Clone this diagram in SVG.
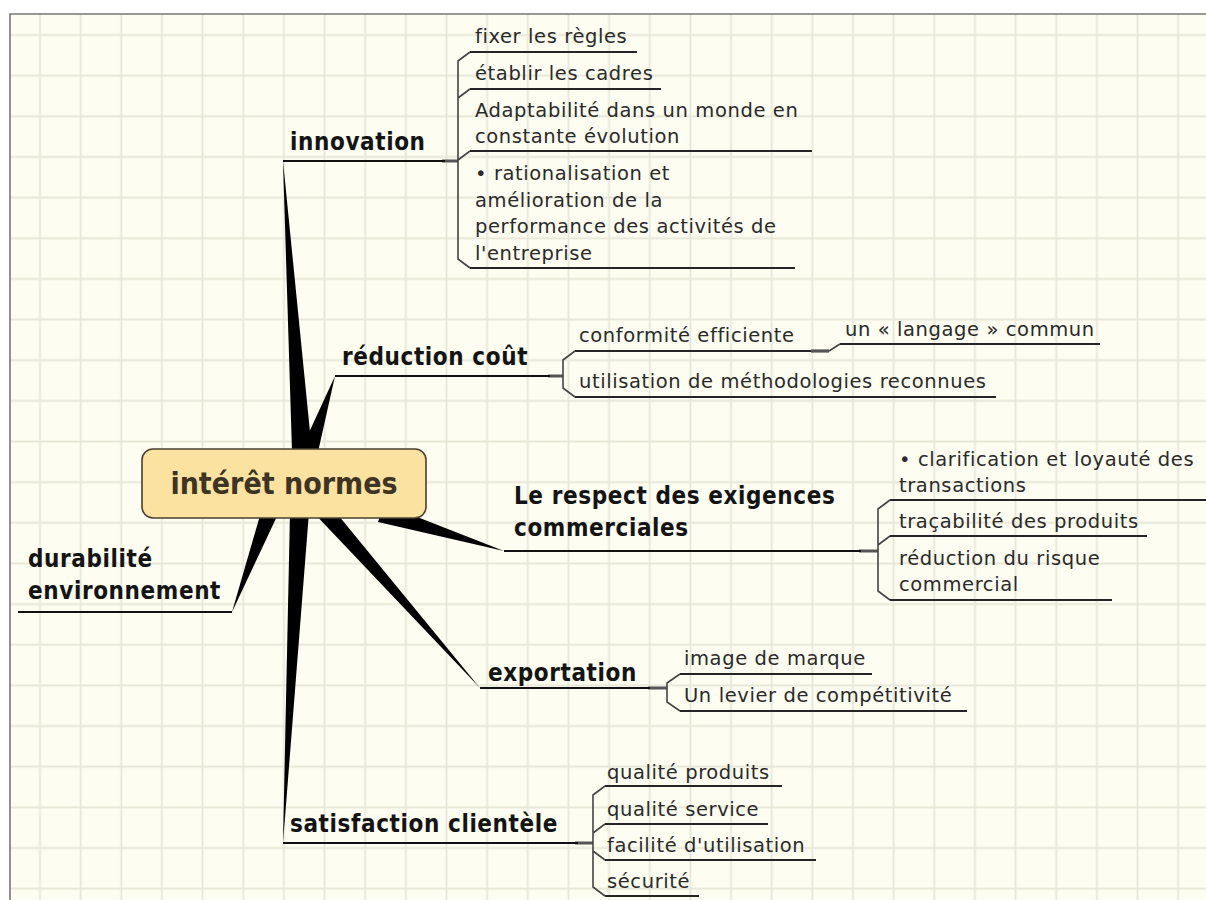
<svg xmlns="http://www.w3.org/2000/svg" width="1206" height="900" viewBox="0 0 1206 900">
<defs>
<pattern id="grid" x="19.675" y="14.675" width="40.65" height="40.65" patternUnits="userSpaceOnUse">
<path d="M20.325 0V40.65M0 20.325H40.65" stroke="#e7e7d9" stroke-width="1.8" fill="none"/>
</pattern>
<style>
.br{font-family:"DejaVu Sans Condensed","DejaVu Sans",sans-serif;font-stretch:condensed;font-weight:bold;font-size:24px;letter-spacing:0.6px;fill:#141414}
.sub{font-family:"DejaVu Sans",sans-serif;font-size:19.5px;letter-spacing:0.6px;fill:#2a2a2a}
.ctr{font-family:"DejaVu Sans Condensed","DejaVu Sans",sans-serif;font-stretch:condensed;font-weight:bold;font-size:30px;fill:#3d3424}
.ul{stroke:#111;stroke-width:2;fill:none}
.cul{stroke:#252525;stroke-width:1.8;fill:none}
.brk{stroke:#444;stroke-width:1.6;fill:none}
.thk{stroke:#555;stroke-width:3.2;fill:none}
.spk{fill:#000}
</style>
</defs>
<rect width="1206" height="900" fill="#fff"/>
<rect x="10" y="14" width="1200" height="890" fill="#fdfdf1"/>
<rect x="10" y="14" width="1200" height="890" fill="url(#grid)"/>
<path d="M10 900V14H1206" stroke="#777" stroke-width="1.6" fill="none"/>

<g id="connectors">
<polygon class="spk" points="283,161 292,452 312,452"/>
<polygon class="spk" points="335,376 300,452 318,452"/>
<polygon class="spk" points="504,551 378,522 384,504"/>
<polygon class="spk" points="480,688 311,510 334,510"/>
<polygon class="spk" points="283,843 290,512 309,512"/>
<polygon class="spk" points="232,612 261,512 279,512"/>
<path class="thk" d="M442 161H458M548 376H563M859 551H878M648 688H667M575 843H593"/>
<path class="brk" d="M470 52L458 61V259L470 268M470 89L458 98M470 151L458 160"/>
<path class="brk" d="M575 351L563 360V388L575 397"/>
<path class="brk" d="M890 500L878 509V591L890 600M890 536L878 545"/>
<path class="brk" d="M680 674L667 683V702L680 711"/>
<path class="brk" d="M605 786L593 795V887L605 896M605 824L593 833M605 860L593 851"/>
<path class="thk" d="M811 351H829"/>
<path class="brk" d="M829 351L840 344"/>
</g>

<g id="central">
<rect x="142" y="449" width="284" height="69" rx="11" fill="#fce2a0" stroke="#4a4030" stroke-width="1.6"/>
<text class="ctr" x="284" y="494" text-anchor="middle">intérêt normes</text>
</g>

<g id="innovation">
<text class="br" x="290" y="150">innovation</text>
<path class="ul" d="M283 161H445"/>
</g>
<g id="fixer">
<text class="sub" x="475" y="43">fixer les règles</text>
<path class="cul" d="M470 52H637"/>
</g>
<g id="etablir">
<text class="sub" x="475" y="80">établir les cadres</text>
<path class="cul" d="M470 89H661"/>
</g>
<g id="adaptabilite">
<text class="sub" x="475" y="117">Adaptabilité dans un monde en</text>
<text class="sub" x="475" y="143">constante évolution</text>
<path class="cul" d="M470 151H812"/>
</g>
<g id="rationalisation">
<text class="sub" x="475" y="180">• rationalisation et</text>
<text class="sub" x="475" y="207">amélioration de la</text>
<text class="sub" x="475" y="233">performance des activités de</text>
<text class="sub" x="475" y="260">l'entreprise</text>
<path class="cul" d="M470 268H795"/>
</g>

<g id="reduction">
<text class="br" x="342" y="365">réduction coût</text>
<path class="ul" d="M335 376H550"/>
</g>
<g id="conformite">
<text class="sub" x="579" y="342">conformité efficiente</text>
<path class="cul" d="M575 351H811"/>
</g>
<g id="langage">
<text class="sub" x="845" y="336">un « langage » commun</text>
<path class="cul" d="M840 344H1100"/>
</g>
<g id="utilisation">
<text class="sub" x="579" y="388">utilisation de méthodologies reconnues</text>
<path class="cul" d="M575 397H996"/>
</g>

<g id="respect">
<text class="br" x="514" y="504">Le respect des exigences</text>
<text class="br" x="514" y="536">commerciales</text>
<path class="ul" d="M504 551H861"/>
</g>
<g id="clarification">
<text class="sub" x="899" y="466">• clarification et loyauté des</text>
<text class="sub" x="899" y="492">transactions</text>
<path class="cul" d="M890 500H1206"/>
</g>
<g id="tracabilite">
<text class="sub" x="899" y="528">traçabilité des produits</text>
<path class="cul" d="M890 536H1147"/>
</g>
<g id="risque">
<text class="sub" x="899" y="565">réduction du risque</text>
<text class="sub" x="899" y="591">commercial</text>
<path class="cul" d="M890 600H1112"/>
</g>

<g id="exportation">
<text class="br" x="488" y="681">exportation</text>
<path class="ul" d="M480 688H650"/>
</g>
<g id="image">
<text class="sub" x="684" y="665">image de marque</text>
<path class="cul" d="M680 674H872"/>
</g>
<g id="levier">
<text class="sub" x="684" y="702">Un levier de compétitivité</text>
<path class="cul" d="M680 711H967"/>
</g>

<g id="satisfaction">
<text class="br" x="290" y="832">satisfaction clientèle</text>
<path class="ul" d="M283 843H578"/>
</g>
<g id="produits">
<text class="sub" x="607" y="779">qualité produits</text>
<path class="cul" d="M605 786H782"/>
</g>
<g id="service">
<text class="sub" x="607" y="816">qualité service</text>
<path class="cul" d="M605 824H768"/>
</g>
<g id="facilite">
<text class="sub" x="607" y="852">facilité d'utilisation</text>
<path class="cul" d="M605 860H816"/>
</g>
<g id="securite">
<text class="sub" x="607" y="888">sécurité</text>
<path class="cul" d="M605 896H699"/>
</g>

<g id="durabilite">
<text class="br" x="28" y="567">durabilité</text>
<text class="br" x="28" y="599">environnement</text>
<path class="ul" d="M18 612H232"/>
</g>
</svg>
